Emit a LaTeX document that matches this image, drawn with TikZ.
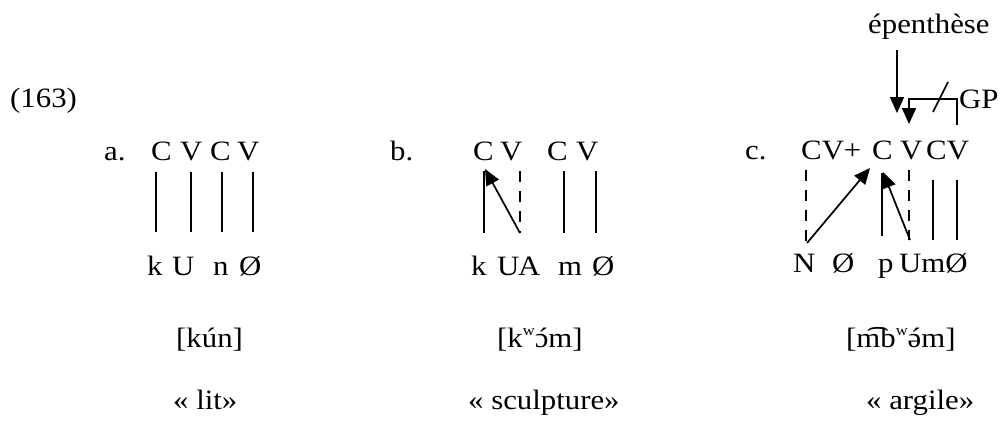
\documentclass[tikz,border=0pt]{standalone}
\usepackage{fontspec}
\setmainfont{Liberation Serif}[FakeStretch=1.1]
\usetikzlibrary{arrows.meta}
\newcommand\supw{\raisebox{0.42em}{\fontsize{15}{15}\selectfont w}}
\newcommand\acc[1]{\ooalign{#1\cr\hidewidth\kern3pt ´\hidewidth\cr}}
\begin{document}
\begin{tikzpicture}[x=1pt,y=-1pt,
  t/.style={inner sep=0pt, anchor=base west, font=\fontsize{28}{30}\selectfont},
  ln/.style={line width=1.7pt},
  dl/.style={line width=1.7pt, dash pattern=on 11pt off 9pt},
  ar/.style={line width=1.7pt, -{Triangle[length=16pt,width=14pt]}}]
\useasboundingbox (0,0) rectangle (1004,421);
\node[t] (num) at (10,107) {(163)};
% ---- a
\node[t] (la) at (104,160) {a.};
\node[t] (aC1) at (151,160) {C};
\node[t] (aV1) at (180,160) {V};
\node[t] (aC2) at (210,160) {C};
\node[t] (aV2) at (237,160) {V};
\node[t] (ak) at (147,275) {k};
\node[t] (aU) at (172,275) {U};
\node[t] (an) at (213,275) {n};
\node[t] (aO) at (239,275) {Ø};
\foreach \i/\x in {1/156,2/191,3/222,4/253}{
  \coordinate (at\i) at (\x,172);
  \coordinate (ab\i) at (\x,232);
  \draw[ln] (at\i) -- (ab\i);
}
\node[t] (atr) at (176,347) {[kún]};
\node[t] (agl) at (173,409) {« lit»};
% ---- b
\node[t] (lb) at (390,160) {b.};
\node[t] (bC1) at (473,160) {C};
\node[t] (bV1) at (500,160) {V};
\node[t] (bC2) at (547,160) {C};
\node[t] (bV2) at (576,160) {V};
\node[t] (bk) at (471,275) {k};
\node[t] (bU) at (497,275) {U};
\node[t] (bA) at (518,275) {A};
\node[t] (bm) at (558,275) {m};
\node[t] (bO) at (592,275) {Ø};
\coordinate (bt1) at (484,171); \coordinate (bb1) at (484,233);
\coordinate (bt2) at (520,171); \coordinate (bb2) at (520,233);
\coordinate (bt3) at (564,171); \coordinate (bb3) at (564,233);
\coordinate (bt4) at (596,171); \coordinate (bb4) at (596,233);
\coordinate (bh) at (485,169);
\draw[ln] (bt1) -- (bb1);
\draw[ar] (bb2) -- (bh);
\draw[dl] (bt2) -- (bb2);
\draw[ln] (bt3) -- (bb3);
\draw[ln] (bt4) -- (bb4);
\node[t] (btr) at (497,347) {[k\supw\acc{ɔ}m]};
\node[t] (bgl) at (468,409) {« sculpture»};
% ---- c
\node[t] (lc) at (745,159) {c.};
\node[t] (cCV) at (801,159) {CV+};
\node[t] (cC1) at (872,159) {C};
\node[t] (cV1) at (900,159) {V};
\node[t] (cCV2) at (926,159) {CV};
\node[t] (cN) at (793,272) {N};
\node[t] (cO1) at (832,272) {Ø};
\node[t] (cp) at (878,272) {p};
\node[t] (cU) at (899,272) {UmØ};
\coordinate (ct1) at (806,170); \coordinate (cb1) at (806,242);
\coordinate (ch1) at (870,168); \coordinate (cs1) at (807,243);
\coordinate (ct2) at (882,173); \coordinate (cb2) at (882,236);
\coordinate (ch2) at (883,172); \coordinate (cs2) at (910,240);
\coordinate (ct3) at (909,170); \coordinate (cb3) at (909,240);
\coordinate (ct4) at (933,180); \coordinate (cb4) at (933,240);
\coordinate (ct5) at (957,180); \coordinate (cb5) at (957,240);
\draw[dl] (ct1) -- (cb1);
\draw[ar] (cs1) -- (ch1);
\draw[ln] (ct2) -- (cb2);
\draw[ar] (cs2) -- (ch2);
\draw[dl] (ct3) -- (cb3);
\draw[ln] (ct4) -- (cb4);
\draw[ln] (ct5) -- (cb5);
% top
\node[t] (ep) at (868,33) {épenthèse};
\coordinate (e1) at (897,50); \coordinate (e2) at (897,113);
\draw[ar] (e1) -- (e2);
\coordinate (g1) at (957,125); \coordinate (g2) at (909,99); \coordinate (g3) at (909,124);
\draw[ar] (g1) |- (g2) -- (g3);
\coordinate (s1) at (933,112); \coordinate (s2) at (948,82);
\draw[ln] (s1) -- (s2);
\node[t] (gp) at (959,108) {GP};
\node[t] (ctr) at (846,347) {[m͡b\supw\acc{ə}m]};
\node[t] (cgl) at (866,409) {« argile»};
\end{tikzpicture}
\end{document}
